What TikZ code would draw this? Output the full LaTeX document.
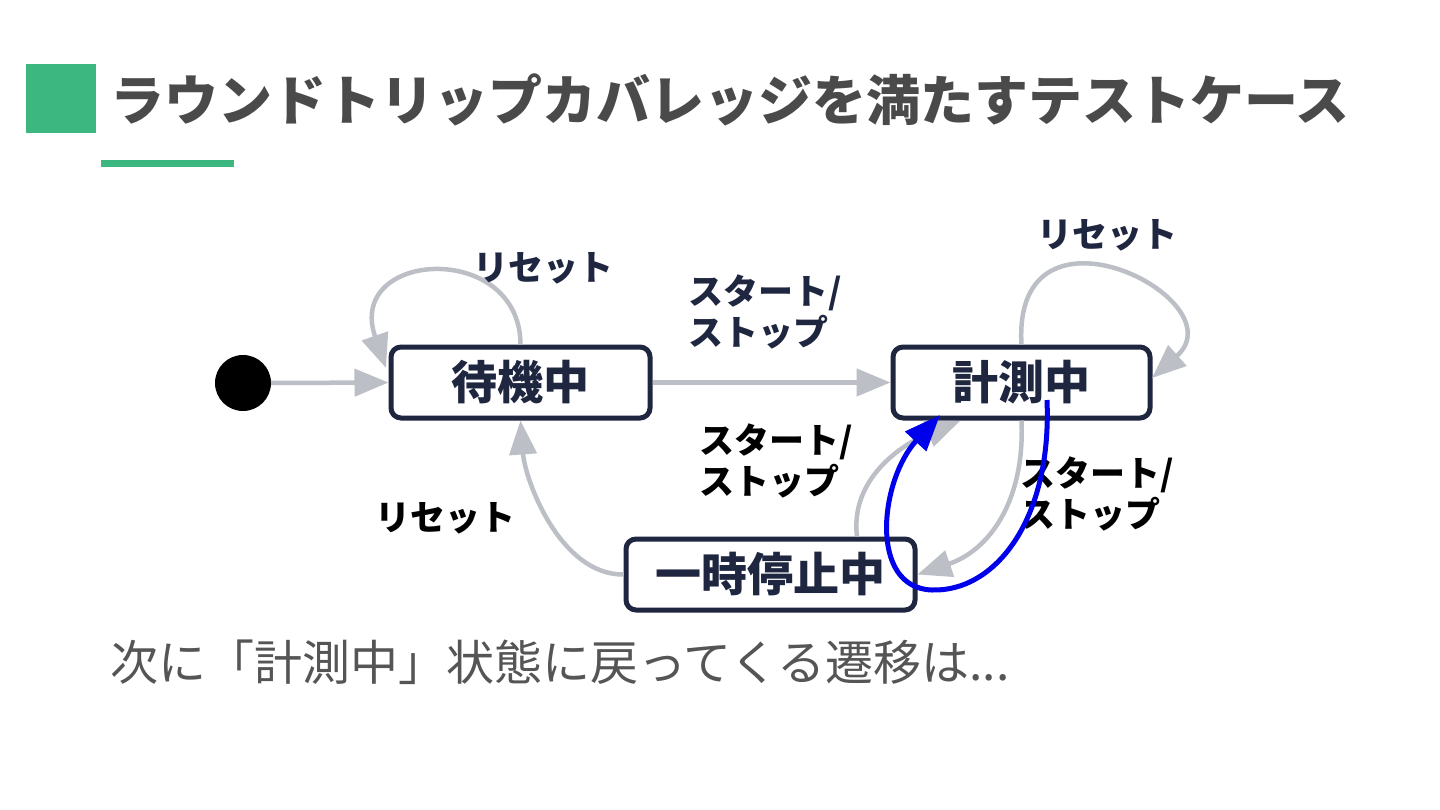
\documentclass[tikz,border=0pt]{standalone}
\usepackage{fontspec}
\setmainfont{Noto Sans CJK JP}
\usetikzlibrary{arrows.meta}
\definecolor{slidegreen}{RGB}{60,183,127}
\definecolor{titlegray}{RGB}{74,74,74}
\definecolor{bodygray}{RGB}{85,85,85}
\definecolor{statenavy}{RGB}{31,38,64}
\definecolor{flowgray}{RGB}{189,191,198}
\definecolor{pathblue}{RGB}{0,0,235}

\begin{document}
\begin{tikzpicture}[x=1pt, y=-1pt,
 state/.style={draw=statenavy, line width=5pt, rounded corners=10pt, fill=white, text=statenavy, minimum height=71pt, inner sep=0pt, font=\fontsize{46}{50}\selectfont\bfseries},
 flow/.style={draw=flowgray, line width=4.5pt, -{Triangle[length=34pt, width=27pt]}},
 lbl/.style={align=left, inner sep=0pt, font=\fontsize{35}{41}\selectfont\bfseries}]
 \useasboundingbox[fill=white] (0,0) rectangle (1440,810);
 % heading
 \fill[slidegreen] (26,64) rectangle (96,133);
 \fill[slidegreen] (101,160) rectangle (234,167);
 \node[anchor=west, inner sep=0pt, text=titlegray, font=\fontsize{54}{60}\selectfont\bfseries] (title) at (110,100){ラウンドトリップカバレッジを満たすテストケース};
 % states
 \fill (243,383) circle (28) coordinate (start);
 \node[state, minimum width=259pt] (idle) at (520.5,382.5){待機中};
 \node[state, minimum width=257pt] (meas) at (1021.5,382.5){計測中};
 \node[state, minimum width=289pt] (pause) at (770.5,574.5){一時停止中};
 \coordinate (idleIn) at (386,368);
 \coordinate (measIn) at (1152,378);
 % transitions
 \draw[flow] (271,383) -- (idle.west);
 \draw[flow] (idle.north) .. controls (520,240) and (345,250) .. (idleIn);
 \draw[flow] (idle.east) -- (meas.west);
 \draw[flow] (meas.north) .. controls (1012,185) and (1240,300) .. (measIn);
 \draw[flow] (pause.west) .. controls (560,575) and (525,480) .. (idle.south);
 \draw[flow] (pause.north -| 857,0) .. controls (850,480) and (900,445) .. (960,421);
 \draw[flow] (meas.south) .. controls (1025,500) and (990,550) .. (pause.east);
 \node[lbl, text=statenavy] (l1) at (543,268){リセット};
 \node[lbl, text=statenavy] (l2) at (765,312){スタート/\\ストップ};
 \node[lbl, text=statenavy] (l3) at (1107,235){リセット};
 \node[lbl, text=black] (l4) at (445,518){リセット};
 \node[lbl, text=black] (l5) at (776,461){スタート/\\ストップ};
 \node[lbl, text=black] (l6) at (1097,494){スタート/\\ストップ};
 % round trip
 \coordinate (blueStart) at (1047,400);
 \coordinate (blueEnd) at (940,415);
 \draw[pathblue, line width=5pt, -{Triangle[length=36pt, width=28pt]}] (blueStart) .. controls (1052,520) and (995,592) .. (932,590) .. controls (868,588) and (880,480) .. (blueEnd);
 \node[anchor=west, inner sep=0pt, text=bodygray, font=\fontsize{48}{54}\selectfont] (note) at (110,662){次に「計測中」状態に戻ってくる遷移は...};
\end{tikzpicture}
\end{document}
